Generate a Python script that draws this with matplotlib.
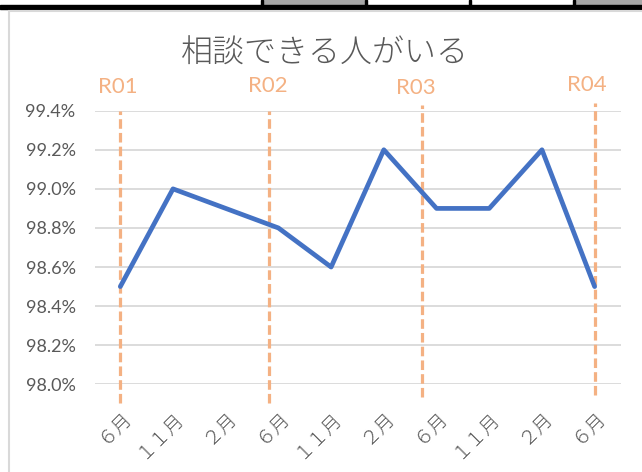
import matplotlib
matplotlib.use('Agg')
import matplotlib.pyplot as plt
import matplotlib.transforms as mtrans
from matplotlib.patches import Rectangle

plt.rcParams['font.family'] = ['Noto Sans CJK JP', 'DejaVu Sans']

# data
months = ['６月', '１１月', '２月', '６月', '１１月', '２月', '６月', '１１月', '２月', '６月']
values = [98.5, 99.0, 98.9, 98.8, 98.6, 99.2, 98.9, 98.9, 99.2, 98.5]
periods = ['R01', 'R02', 'R03', 'R04']
period_pos = [0.0, 2.83, 5.73, 9.0]
yticks = [98.0, 98.2, 98.4, 98.6, 98.8, 99.0, 99.2, 99.4]

# layout of the hand-drawn period markers (dashed line ends, label spots)
line_bottom = [97.904, 97.904, 97.935, 97.945]
line_top = [99.4, 99.4, 99.43, 99.44]
label_x = [-0.05, 2.80, 5.60, 8.86]
label_y = [87, 85.5, 88, 85]  # pixels from top

orange = '#F4B183'
gray_text = '#595959'

fig = plt.figure(figsize=(6.42, 4.72), dpi=100)

# bits of the spreadsheet visible above the chart
fig.patches.append(Rectangle((263 / 642, 1 - 5.5 / 472), 101 / 642, 5.5 / 472,
                             transform=fig.transFigure, color='#A6A6A6', zorder=0))
fig.patches.append(Rectangle((575 / 642, 1 - 5.5 / 472), 67 / 642, 5.5 / 472,
                             transform=fig.transFigure, color='#A6A6A6', zorder=0))
fig.patches.append(Rectangle((0, 1 - 8.5 / 472), 1, 3.5 / 472,
                             transform=fig.transFigure, color='black', zorder=1))
for xv in [261, 365, 469, 573]:
    fig.patches.append(Rectangle((xv / 642, 1 - 6 / 472), 2 / 642, 6 / 472,
                                 transform=fig.transFigure, color='black', zorder=1))
# chart border
fig.patches.append(Rectangle((9 / 642, -0.05), 1, 1 - 11 / 472 + 0.05,
                             transform=fig.transFigure, fill=False,
                             edgecolor='#D9D9D9', linewidth=1.5, zorder=1))

ax = fig.add_axes([95 / 642, 1 - 384.3 / 472, 526 / 642, 273.6 / 472])
x = list(range(len(months)))

for v in yticks:
    ax.axhline(v, color='#D9D9D9', linewidth=1.3, zorder=1)

ax.plot(x, values, color='#4472C4', linewidth=3.4, zorder=3, solid_capstyle='round')

blend = mtrans.blended_transform_factory(ax.transData, fig.transFigure)
for i, lab in enumerate(periods):
    p = period_pos[i]
    ax.plot([p, p], [line_bottom[i], line_top[i]], color=orange, linewidth=2.3,
            linestyle=(0, (3, 1.3)), zorder=2, clip_on=False)
    fig.text(label_x[i], 1 - label_y[i] / 472, lab, transform=blend,
             color=orange, fontsize=16, ha='center', va='center', family='Lato')

ax.set_xlim(-0.48, 9.5)
ax.set_ylim(98.0, 99.4)
ax.set_yticks(yticks)
ax.set_yticklabels([f'{v:.1f}%' for v in yticks], color=gray_text, fontsize=13,
                   family='Lato')
ax.set_xticks(x)
ax.set_xticklabels(months, rotation=45, ha='right', rotation_mode='anchor',
                   color=gray_text, fontsize=14, fontweight='light')
shift = mtrans.ScaledTranslation(-8 / 100, 0, fig.dpi_scale_trans)
for t in ax.get_xticklabels():
    t.set_transform(t.get_transform() + shift)
ax.tick_params(length=0, axis='y', pad=14)
ax.tick_params(length=0, axis='x', pad=16)
for s in ax.spines.values():
    s.set_visible(False)

fig.text(325 / 642, 1 - 53 / 472, '相談できる人がいる', ha='center', va='center',
         fontsize=23, color=gray_text, fontweight='light')

fig.savefig('out.png', dpi=100)
